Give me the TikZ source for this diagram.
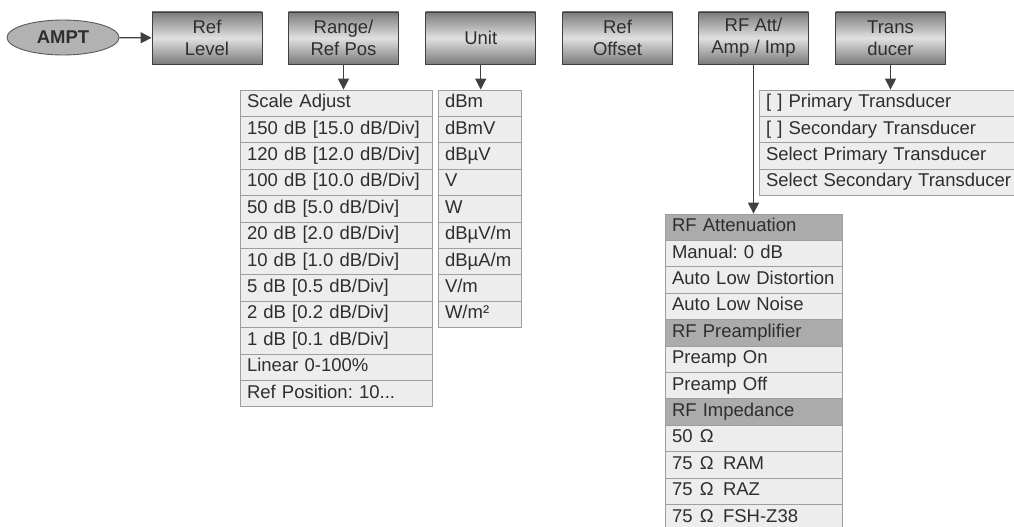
\documentclass[tikz,border=0pt]{standalone}
\usepackage{fontspec}
\setmainfont{Liberation Sans}
\usetikzlibrary{arrows.meta,shapes.geometric}

\begin{document}
\begin{tikzpicture}[x=1pt,y=-1pt,
  txt/.style={font=\fontsize{18.5}{22}\selectfont\frenchspacing,text=black!82},
  key/.style={txt,draw=black!75,line width=0.9pt,top color=black!52,
    bottom color=black!52,middle color=black!12,align=center,
    minimum width=110pt,minimum height=52pt,inner sep=2pt},
  item/.style={txt,draw=black!38,line width=0.8pt,fill=black!7,align=left,
    minimum height=26.4pt,inner xsep=6.5pt,inner ysep=0pt,
    text height=13pt,text depth=4pt},
  rangeitem/.style={item,text width=179pt},
  unititem/.style={item,text width=70pt},
  transitem/.style={item,text width=248pt},
  rfitem/.style={item,text width=164pt},
  rfhead/.style={rfitem,fill=black!33},
  flow/.style={-{Triangle[length=11pt,width=11pt]},draw=black!75,line width=1.3pt}]
\useasboundingbox (0,0) rectangle (1014,527);
\node[ellipse,txt,draw=black!65,line width=0.9pt,fill=black!30,
  minimum width=112pt,minimum height=35pt,inner sep=0pt] (ampt) at (63,37.5)
  {\textbf{AMPT}};
\node[key] (reflevel) at (207,38) {Ref\\Level};
\node[key] (range) at (343.5,38) {Range/\\Ref Pos};
\node[key] (unit) at (480.7,38) {Unit};
\node[key] (refoffset) at (617.5,38) {Ref\\Offset};
\node[key] (rfatt) at (753.5,38) {RF Att/\\Amp / Imp};
\node[key] (trans) at (890.5,38) {Trans\\ducer};
% range / ref pos
\node[rangeitem] (r1) at (336.5,103.2) {Scale Adjust};
\node[rangeitem] (r2) at (336.5,129.6) {150 dB [15.0 dB/Div]};
\node[rangeitem] (r3) at (336.5,156) {120 dB [12.0 dB/Div]};
\node[rangeitem] (r4) at (336.5,182.4) {100 dB [10.0 dB/Div]};
\node[rangeitem] (r5) at (336.5,208.8) {50 dB [5.0 dB/Div]};
\node[rangeitem] (r6) at (336.5,235.2) {20 dB [2.0 dB/Div]};
\node[rangeitem] (r7) at (336.5,261.6) {10 dB [1.0 dB/Div]};
\node[rangeitem] (r8) at (336.5,288) {5 dB [0.5 dB/Div]};
\node[rangeitem] (r9) at (336.5,314.4) {2 dB [0.2 dB/Div]};
\node[rangeitem] (r10) at (336.5,340.8) {1 dB [0.1 dB/Div]};
\node[rangeitem] (r11) at (336.5,367.2) {Linear 0-100\%};
\node[rangeitem] (r12) at (336.5,393.6) {Ref Position: 10...};
% unit
\node[unititem] (u1) at (480,103.2) {dBm};
\node[unititem] (u2) at (480,129.6) {dBmV};
\node[unititem] (u3) at (480,156) {dBµV};
\node[unititem] (u4) at (480,182.4) {V};
\node[unititem] (u5) at (480,208.8) {W};
\node[unititem] (u6) at (480,235.2) {dBµV/m};
\node[unititem] (u7) at (480,261.6) {dBµA/m};
\node[unititem] (u8) at (480,288) {V/m};
\node[unititem] (u9) at (480,314.4) {W/m²};
% transducer
\node[transitem] (t1) at (890,103.2) {[ ] Primary Transducer};
\node[transitem] (t2) at (890,129.6) {[ ] Secondary Transducer};
\node[transitem] (t3) at (890,156) {Select Primary Transducer};
\node[transitem] (t4) at (890,182.4) {Select Secondary Transducer};
% rf att / amp / imp
\node[rfhead] (a1) at (754,227.2) {RF Attenuation};
\node[rfitem] (a2) at (754,253.6) {Manual: 0 dB};
\node[rfitem] (a3) at (754,280) {Auto Low Distortion};
\node[rfitem] (a4) at (754,306.4) {Auto Low Noise};
\node[rfhead] (a5) at (754,332.8) {RF Preamplifier};
\node[rfitem] (a6) at (754,359.2) {Preamp On};
\node[rfitem] (a7) at (754,385.6) {Preamp Off};
\node[rfhead] (a8) at (754,412) {RF Impedance};
\node[rfitem] (a9) at (754,438.4) {50\hspace{0.4em}Ω};
\node[rfitem] (a10) at (754,464.8) {75\hspace{0.4em}Ω\hspace{0.5em}RAM};
\node[rfitem] (a11) at (754,491.2) {75\hspace{0.4em}Ω\hspace{0.5em}RAZ};
\node[rfitem] (a12) at (754,517.6) {75\hspace{0.4em}Ω\hspace{0.5em}FSH-Z38};
\draw[flow] (ampt) -- (reflevel);
\draw[flow] (range.south) -- (range.south |- r1.north);
\draw[flow] (unit.south) -- (unit.south |- u1.north);
\draw[flow] (trans.south) -- (trans.south |- t1.north);
\draw[flow] (rfatt.south) -- (rfatt.south |- a1.north);
\end{tikzpicture}
\end{document}
